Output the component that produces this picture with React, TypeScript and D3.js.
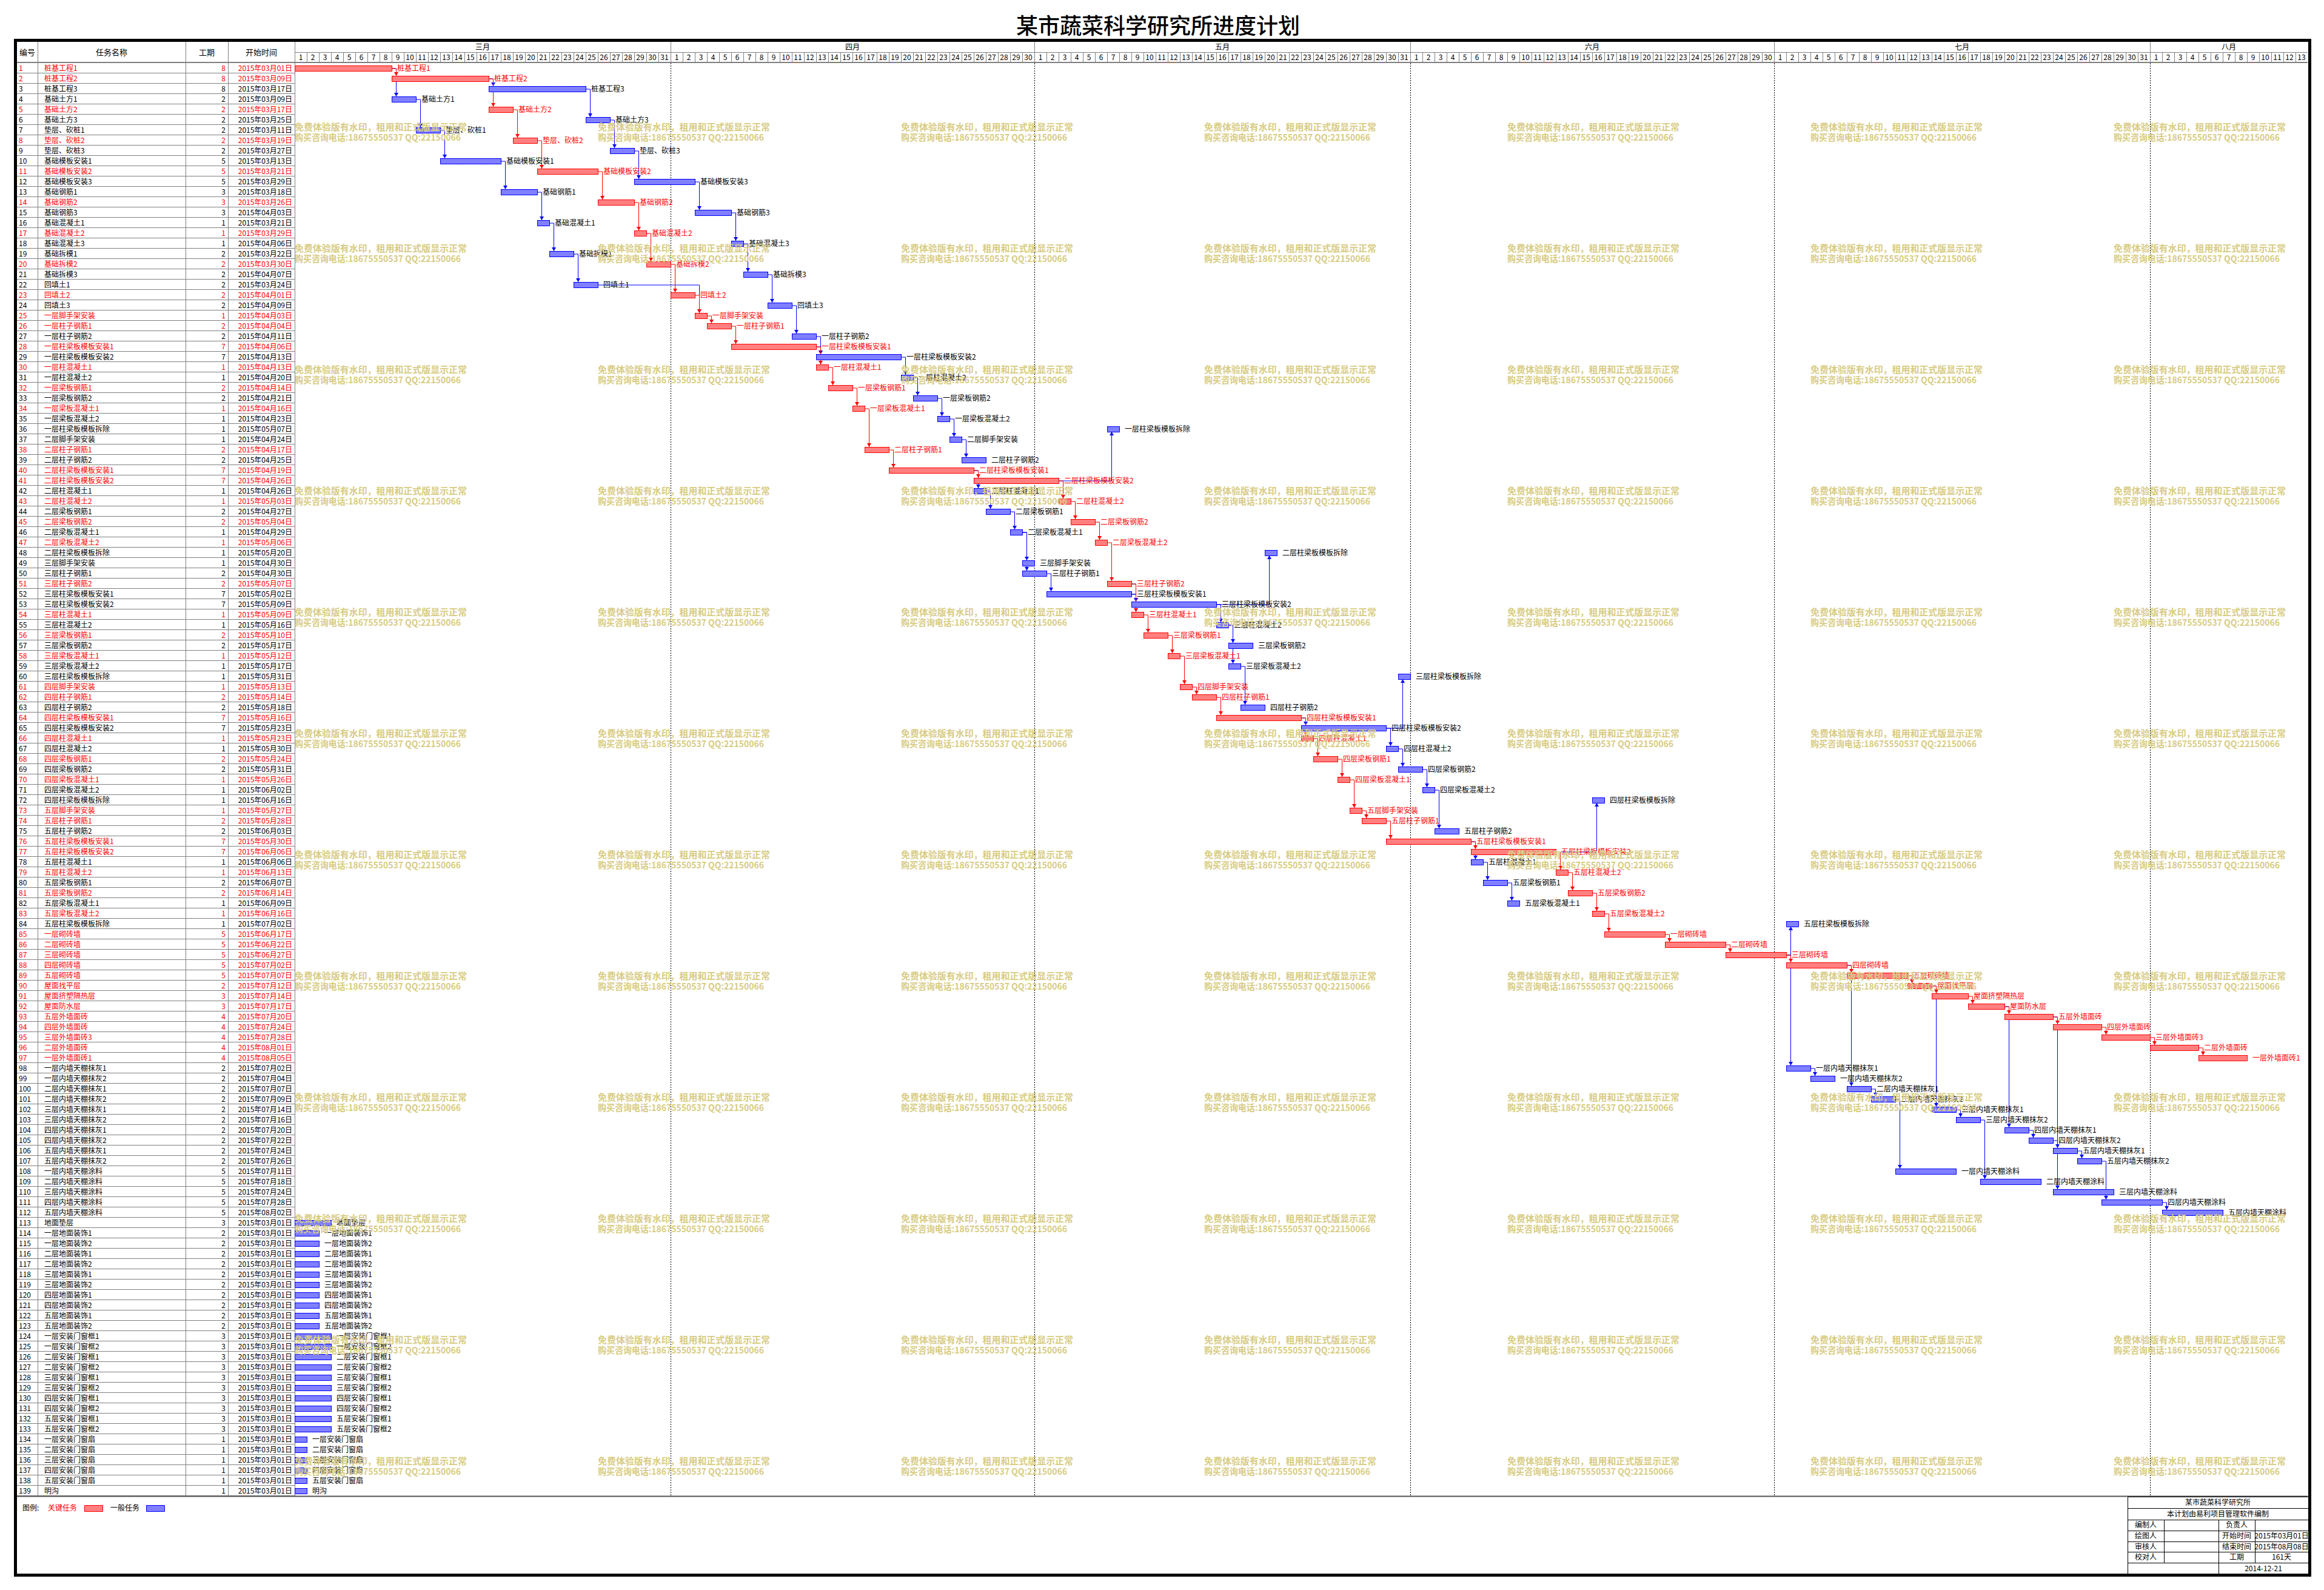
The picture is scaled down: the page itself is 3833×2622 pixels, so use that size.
import React, { useEffect, useRef } from "react";
import * as d3 from "d3";

// ---- data ----
const taskNames = [
  "桩基工程1", "桩基工程2", "桩基工程3", "基础土方1", "基础土方2", "基础土方3",
  "垫层、砍桩1", "垫层、砍桩2", "垫层、砍桩3", "基础模板安装1", "基础模板安装2", "基础模板安装3",
  "基础钢筋1", "基础钢筋2", "基础钢筋3", "基础混凝土1", "基础混凝土2", "基础混凝土3",
  "基础拆模1", "基础拆模2", "基础拆模3", "回填土1", "回填土2", "回填土3",
  "一层脚手架安装", "一层柱子钢筋1", "一层柱子钢筋2", "一层柱梁板模板安装1", "一层柱梁板模板安装2",
  "一层柱混凝土1", "一层柱混凝土2", "一层梁板钢筋1", "一层梁板钢筋2", "一层梁板混凝土1", "一层梁板混凝土2",
  "一层柱梁板模板拆除",
  "二层脚手架安装", "二层柱子钢筋1", "二层柱子钢筋2", "二层柱梁板模板安装1", "二层柱梁板模板安装2",
  "二层柱混凝土1", "二层柱混凝土2", "二层梁板钢筋1", "二层梁板钢筋2", "二层梁板混凝土1", "二层梁板混凝土2",
  "二层柱梁板模板拆除",
  "三层脚手架安装", "三层柱子钢筋1", "三层柱子钢筋2", "三层柱梁板模板安装1", "三层柱梁板模板安装2",
  "三层柱混凝土1", "三层柱混凝土2", "三层梁板钢筋1", "三层梁板钢筋2", "三层梁板混凝土1", "三层梁板混凝土2",
  "三层柱梁板模板拆除",
  "四层脚手架安装", "四层柱子钢筋1", "四层柱子钢筋2", "四层柱梁板模板安装1", "四层柱梁板模板安装2",
  "四层柱混凝土1", "四层柱混凝土2", "四层梁板钢筋1", "四层梁板钢筋2", "四层梁板混凝土1", "四层梁板混凝土2",
  "四层柱梁板模板拆除",
  "五层脚手架安装", "五层柱子钢筋1", "五层柱子钢筋2", "五层柱梁板模板安装1", "五层柱梁板模板安装2",
  "五层柱混凝土1", "五层柱混凝土2", "五层梁板钢筋1", "五层梁板钢筋2", "五层梁板混凝土1", "五层梁板混凝土2",
  "五层柱梁板模板拆除",
  "一层砌砖墙", "二层砌砖墙", "三层砌砖墙", "四层砌砖墙", "五层砌砖墙",
  "屋面找平层", "屋面挤塑隔热层", "屋面防水层",
  "五层外墙面砖", "四层外墙面砖", "三层外墙面砖3", "二层外墙面砖", "一层外墙面砖1",
  "一层内墙天棚抹灰1", "一层内墙天棚抹灰2", "二层内墙天棚抹灰1", "二层内墙天棚抹灰2",
  "三层内墙天棚抹灰1", "三层内墙天棚抹灰2", "四层内墙天棚抹灰1", "四层内墙天棚抹灰2",
  "五层内墙天棚抹灰1", "五层内墙天棚抹灰2",
  "一层内墙天棚涂料", "二层内墙天棚涂料", "三层内墙天棚涂料", "四层内墙天棚涂料", "五层内墙天棚涂料",
  "地面垫层",
  "一层地面装饰1", "一层地面装饰2", "二层地面装饰1", "二层地面装饰2", "三层地面装饰1",
  "三层地面装饰2", "四层地面装饰1", "四层地面装饰2", "五层地面装饰1", "五层地面装饰2",
  "一层安装门窗框1", "一层安装门窗框2", "二层安装门窗框1", "二层安装门窗框2", "三层安装门窗框1",
  "三层安装门窗框2", "四层安装门窗框1", "四层安装门窗框2", "五层安装门窗框1", "五层安装门窗框2",
  "一层安装门窗扇", "二层安装门窗扇", "三层安装门窗扇", "四层安装门窗扇", "五层安装门窗扇",
  "明沟",
];

const durations = [
  8, 8, 8, 2, 2, 2, 2, 2, 2, 5, 5, 5, 3, 3, 3, 1, 1, 1, 2, 2, 2, 2, 2, 2,
  1, 2, 2, 7, 7, 1, 1, 2, 2, 1, 1, 1,
  1, 2, 2, 7, 7, 1, 1, 2, 2, 1, 1, 1,
  1, 2, 2, 7, 7, 1, 1, 2, 2, 1, 1, 1,
  1, 2, 2, 7, 7, 1, 1, 2, 2, 1, 1, 1,
  1, 2, 2, 7, 7, 1, 1, 2, 2, 1, 1, 1,
  5, 5, 5, 5, 5, 2, 3, 3, 4, 4, 4, 4, 4,
  2, 2, 2, 2, 2, 2, 2, 2, 2, 2,
  5, 5, 5, 5, 5,
  3, 2, 2, 2, 2, 2, 2, 2, 2, 2, 2,
  3, 3, 3, 3, 3, 3, 3, 3, 3, 3,
  1, 1, 1, 1, 1, 1,
];

const startDates = [
  "03-01", "03-09", "03-17", "03-09", "03-17", "03-25", "03-11", "03-19", "03-27", "03-13",
  "03-21", "03-29", "03-18", "03-26", "04-03", "03-21", "03-29", "04-06", "03-22", "03-30",
  "04-07", "03-24", "04-01", "04-09", "04-03", "04-04", "04-11", "04-06", "04-13", "04-13",
  "04-20", "04-14", "04-21", "04-16", "04-23", "05-07", "04-24", "04-17", "04-25", "04-19",
  "04-26", "04-26", "05-03", "04-27", "05-04", "04-29", "05-06", "05-20", "04-30", "04-30",
  "05-07", "05-02", "05-09", "05-09", "05-16", "05-10", "05-17", "05-12", "05-17", "05-31",
  "05-13", "05-14", "05-18", "05-16", "05-23", "05-23", "05-30", "05-24", "05-31", "05-26",
  "06-02", "06-16", "05-27", "05-28", "06-03", "05-30", "06-06", "06-06", "06-13", "06-07",
  "06-14", "06-09", "06-16", "07-02", "06-17", "06-22", "06-27", "07-02", "07-07", "07-12",
  "07-14", "07-17", "07-20", "07-24", "07-28", "08-01", "08-05", "07-02", "07-04", "07-07",
  "07-09", "07-14", "07-16", "07-20", "07-22", "07-24", "07-26", "07-11", "07-18", "07-24",
  "07-28", "08-02", "03-01", "03-01", "03-01", "03-01", "03-01", "03-01", "03-01", "03-01",
  "03-01", "03-01", "03-01", "03-01", "03-01", "03-01", "03-01", "03-01", "03-01", "03-01",
  "03-01", "03-01", "03-01", "03-01", "03-01", "03-01", "03-01", "03-01", "03-01",
];

const criticalIds = [
  1, 2, 5, 8, 11, 14, 17, 20, 23, 25, 26, 28, 30, 32, 34, 38, 40, 41, 43, 45, 47,
  51, 54, 56, 58, 61, 62, 64, 66, 68, 70, 73, 74, 76, 77, 79, 81, 83,
  85, 86, 87, 88, 89, 90, 91, 92, 93, 94, 95, 96, 97,
];

// predecessor -> successor
const links: [number, number][] = [
  [1, 2], [1, 4], [2, 3], [2, 5], [3, 6], [4, 7], [5, 8], [6, 9], [7, 10], [8, 11], [9, 12],
  [10, 13], [11, 14], [12, 15], [13, 16], [14, 17], [15, 18], [16, 19], [17, 20], [18, 21],
  [19, 22], [20, 23], [21, 24], [22, 25], [23, 25], [25, 26], [24, 27], [26, 28], [27, 29],
  [28, 29], [28, 30], [29, 31], [30, 32], [31, 33], [32, 34], [33, 35],
  [35, 37], [34, 38], [37, 39], [38, 40], [40, 41], [40, 42], [41, 43], [42, 44], [43, 45],
  [44, 46], [45, 47], [41, 36],
  [46, 49], [46, 50], [47, 51], [50, 52], [51, 53], [52, 53], [51, 54], [52, 54], [53, 55],
  [54, 56], [55, 57], [55, 59], [56, 58], [53, 48],
  [58, 61], [61, 62], [59, 63], [62, 64], [64, 65], [64, 66], [65, 67], [66, 68], [67, 69],
  [68, 70], [69, 71], [65, 60],
  [70, 73], [73, 74], [71, 75], [74, 76], [76, 77], [76, 78], [77, 79], [78, 80], [79, 81],
  [80, 82], [81, 83], [77, 72],
  [83, 85], [85, 86], [86, 87], [87, 88], [88, 89], [89, 90], [90, 91], [91, 92], [92, 93],
  [93, 94], [94, 95], [95, 96], [96, 97], [87, 84],
  [87, 98], [98, 99], [88, 100], [100, 101], [90, 102], [102, 103], [92, 104], [104, 105],
  [93, 106], [106, 107], [101, 108], [103, 109], [105, 110], [107, 111], [111, 112],
];

const monthNames = ["三月", "四月", "五月", "六月", "七月", "八月"];
const headerLabels = ["编号", "任务名称", "工期", "开始时间"];
const watermarkLines = ["免费体验版有水印，租用和正式版显示正常", "购买咨询电话:18675550537 QQ:22150066"];
const infoLeft = ["编制人", "绘图人", "审核人", "校对人"];
const infoRightLabels = ["负责人", "开始时间", "结束时间", "工期"];
const infoRightValues = ["", "2015年03月01日", "2015年08月08日", "161天"];

const FONT = "'Noto Sans CJK SC', 'Noto Sans', sans-serif";
const RED = "#ff0000";
const BLUE = "#0000ff";
const GRID = "#808080";

const App = () => {
  const svgRef = useRef<SVGSVGElement | null>(null);

  useEffect(() => {
    document.body.style.margin = "0";
    if (!svgRef.current) return;
    const svg = d3.select(svgRef.current);
    svg.selectAll("*").remove();

    const parse = d3.utcParse("%Y-%m-%d");
    const t0 = parse("2015-03-01") as Date;
    const t1 = parse("2015-08-14") as Date;

    const left = 28;
    const colX = [left, 62, 306, 376, 486];
    const top = 69;
    const monthBottom = 86;
    const headBottom = 104;
    const rowH = 17;

    const x = d3.scaleUtc().domain([t0, t1]).range([486, 3806]);
    const tEnd = x.range()[1];

    const tasks = taskNames.map((name, i) => {
      const start = parse("2015-" + startDates[i]) as Date;
      return {
        id: i + 1,
        name,
        dur: durations[i],
        start,
        end: d3.utcDay.offset(start, durations[i]),
        crit: criticalIds.includes(i + 1),
        label: startDates[i],
      };
    });
    const byId = new Map(tasks.map((t) => [t.id, t]));

    const y = d3
      .scaleBand<number>()
      .domain(tasks.map((t) => t.id))
      .range([headBottom, headBottom + tasks.length * rowH]);
    const tableBottom = y.range()[1];

    // patterns
    const defs = svg.append("defs");
    [
      ["hatchRed", RED],
      ["hatchBlue", BLUE],
    ].forEach(([id, c]) => {
      const p = defs
        .append("pattern")
        .attr("id", id)
        .attr("width", 2)
        .attr("height", 2)
        .attr("patternUnits", "userSpaceOnUse");
      p.append("rect").attr("width", 2).attr("height", 2).attr("fill", "#fff");
      p.append("rect").attr("width", 1).attr("height", 1).attr("fill", c);
      p.append("rect").attr("x", 1).attr("y", 1).attr("width", 1).attr("height", 1).attr("fill", c);
    });

    svg.append("rect").attr("width", 3833).attr("height", 2622).attr("fill", "#fff");

    // title
    svg
      .append("text")
      .attr("x", 1910)
      .attr("y", 56)
      .attr("text-anchor", "middle")
      .style("font-family", FONT)
      .style("font-size", "36px")
      .style("font-weight", 500)
      .text("某市蔬菜科学研究所进度计划");

    const g = svg.append("g");

    // ---- table grid ----
    const days = d3.utcDay.range(t0, t1);
    const months = d3.utcMonth.range(t0, t1);

    tasks.forEach((t) => {
      g.append("line")
        .attr("x1", left)
        .attr("x2", colX[4])
        .attr("y1", (y(t.id) as number) + rowH - 0.5)
        .attr("y2", (y(t.id) as number) + rowH - 0.5)
        .attr("stroke", GRID);
    });
    colX.slice(1).forEach((cx) => {
      g.append("line")
        .attr("x1", cx + 0.5)
        .attr("x2", cx + 0.5)
        .attr("y1", top)
        .attr("y2", tableBottom)
        .attr("stroke", GRID);
    });
    // header lines
    g.append("line")
      .attr("x1", left)
      .attr("x2", tEnd)
      .attr("y1", headBottom - 1)
      .attr("y2", headBottom - 1)
      .attr("stroke", GRID)
      .attr("stroke-width", 2);
    g.append("line")
      .attr("x1", colX[4])
      .attr("x2", tEnd)
      .attr("y1", monthBottom + 0.5)
      .attr("y2", monthBottom + 0.5)
      .attr("stroke", GRID);
    days.forEach((d) => {
      g.append("line")
        .attr("x1", x(d) + 0.5)
        .attr("x2", x(d) + 0.5)
        .attr("y1", monthBottom)
        .attr("y2", headBottom)
        .attr("stroke", GRID);
      g.append("text")
        .attr("x", x(d) + 10)
        .attr("y", (monthBottom + headBottom) / 2)
        .attr("dy", "0.35em")
        .attr("text-anchor", "middle")
        .style("font-family", FONT)
        .style("font-size", "12px")
        .text(d.getUTCDate());
    });
    months.forEach((m, i) => {
      const next = i < months.length - 1 ? months[i + 1] : t1;
      g.append("line")
        .attr("x1", x(m) + 0.5)
        .attr("x2", x(m) + 0.5)
        .attr("y1", top)
        .attr("y2", headBottom)
        .attr("stroke", GRID);
      g.append("text")
        .attr("x", (x(m) + x(next)) / 2)
        .attr("y", (top + monthBottom) / 2)
        .attr("dy", "0.35em")
        .attr("text-anchor", "middle")
        .style("font-family", FONT)
        .style("font-size", "12px")
        .text(monthNames[i]);
      if (i > 0) {
        g.append("line")
          .attr("x1", x(m) + 0.5)
          .attr("x2", x(m) + 0.5)
          .attr("y1", headBottom)
          .attr("y2", tableBottom)
          .attr("stroke", "#000")
          .attr("stroke-dasharray", "2,2");
      }
    });

    headerLabels.forEach((h, i) => {
      g.append("text")
        .attr("x", (colX[i] + colX[i + 1]) / 2)
        .attr("y", (top + headBottom) / 2)
        .attr("dy", "0.35em")
        .attr("text-anchor", "middle")
        .style("font-family", FONT)
        .style("font-size", "13px")
        .text(h);
    });

    // table rows
    const rowText = g
      .selectAll("g.row")
      .data(tasks)
      .enter()
      .append("g")
      .attr("transform", (d) => `translate(0, ${(y(d.id) as number) + rowH / 2})`)
      .style("font-family", FONT)
      .style("font-size", "12px")
      .attr("fill", (d) => (d.crit ? RED : "#000"));
    rowText.append("text").attr("x", 31).attr("dy", "0.36em").text((d) => d.id);
    rowText.append("text").attr("x", 73).attr("dy", "0.36em").text((d) => d.name);
    rowText
      .append("text")
      .attr("x", 372)
      .attr("dy", "0.36em")
      .attr("text-anchor", "end")
      .text((d) => d.dur);
    rowText
      .append("text")
      .attr("x", 482)
      .attr("dy", "0.36em")
      .attr("text-anchor", "end")
      .text((d) => `2015年${d.label.slice(0, 2)}月${d.label.slice(3)}日`);

    // ---- links ----
    const linkData = links
      .map(([p, s]) => ({ p: byId.get(p)!, s: byId.get(s)! }))
      .sort((a, b) => Number(a.p.crit && a.s.crit) - Number(b.p.crit && b.s.crit));
    const linkG = g.append("g");
    linkData.forEach(({ p, s }) => {
      const pe = x(p.end);
      const lx = Math.max(pe, x(s.start)) + 7;
      const py = (y(p.id) as number) + rowH / 2;
      const down = s.id > p.id;
      const sy = down ? (y(s.id) as number) + 4 : (y(s.id) as number) + 13;
      const color = p.crit && s.crit ? RED : BLUE;
      linkG
        .append("path")
        .attr("d", `M${pe},${py + 0.5}H${lx + 0.5}V${sy}`)
        .attr("fill", "none")
        .attr("stroke", color)
        .attr("stroke-width", 1);
      const dir = down ? -1 : 1;
      linkG
        .append("path")
        .attr("d", `M${lx + 0.5},${sy}L${lx - 3},${sy + dir * 6}L${lx + 4},${sy + dir * 6}Z`)
        .attr("fill", color);
    });

    // ---- bars ----
    const bars = g
      .selectAll("g.bar")
      .data(tasks)
      .enter()
      .append("g")
      .attr("transform", (d) => `translate(0, ${y(d.id)})`);
    bars
      .append("rect")
      .attr("x", (d) => x(d.start) + 0.5)
      .attr("y", 4.5)
      .attr("width", (d) => x(d.end) - x(d.start))
      .attr("height", 9)
      .attr("fill", (d) => (d.crit ? "url(#hatchRed)" : "url(#hatchBlue)"))
      .attr("stroke", (d) => (d.crit ? RED : BLUE));
    bars
      .append("text")
      .attr("x", (d) => x(d.end) + 9)
      .attr("y", rowH / 2)
      .attr("dy", "0.36em")
      .style("font-family", FONT)
      .style("font-size", "12px")
      .attr("fill", (d) => (d.crit ? RED : "#000"))
      .text((d) => d.name);

    // ---- watermark ----
    const wm = g.append("g").attr("fill", "#d8cc84").style("font-family", FONT).style("font-weight", 700);
    for (let r = 0; r < 12; r++) {
      for (let c = 0; c < 7; c++) {
        const wx = 486 + c * 500;
        const wy = 215 + r * 200;
        wm.append("text")
          .attr("x", wx)
          .attr("y", wy)
          .attr("textLength", 284)
          .attr("lengthAdjust", "spacingAndGlyphs")
          .style("font-size", "15px")
          .text(watermarkLines[0]);
        wm.append("text")
          .attr("x", wx)
          .attr("y", wy + 17)
          .attr("textLength", 274)
          .attr("lengthAdjust", "spacingAndGlyphs")
          .style("font-size", "15px")
          .text(watermarkLines[1]);
      }
    }

    // table bottom line
    g.append("line")
      .attr("x1", left)
      .attr("x2", tEnd)
      .attr("y1", tableBottom + 0.5)
      .attr("y2", tableBottom + 0.5)
      .attr("stroke", "#555")
      .attr("stroke-width", 2);

    // ---- legend ----
    const lg = g.append("g").style("font-family", FONT).style("font-size", "12px");
    lg.append("text").attr("x", 37).attr("y", 2487).attr("dy", "0.36em").text("图例:");
    lg.append("text").attr("x", 79).attr("y", 2487).attr("dy", "0.36em").attr("fill", RED).text("关键任务");
    lg.append("rect")
      .attr("x", 139.5)
      .attr("y", 2482.5)
      .attr("width", 30)
      .attr("height", 10)
      .attr("fill", "url(#hatchRed)")
      .attr("stroke", RED);
    lg.append("text").attr("x", 182).attr("y", 2487).attr("dy", "0.36em").text("一般任务");
    lg.append("rect")
      .attr("x", 241.5)
      .attr("y", 2482.5)
      .attr("width", 30)
      .attr("height", 10)
      .attr("fill", "url(#hatchBlue)")
      .attr("stroke", BLUE);

    // ---- info box ----
    const bx = [3509, 3569, 3659, 3719, 3807];
    const by = [2468, 2487, 2506, 2524, 2542, 2559, 2577, 2596];
    const ib = g.append("g").style("font-family", FONT).style("font-size", "12px");
    by.slice(0, 7).forEach((yy) => {
      ib.append("line")
        .attr("x1", bx[0])
        .attr("x2", bx[4])
        .attr("y1", yy + 0.5)
        .attr("y2", yy + 0.5)
        .attr("stroke", "#000");
    });
    ib.append("line").attr("x1", bx[0] + 0.5).attr("x2", bx[0] + 0.5).attr("y1", by[0]).attr("y2", by[7]).attr("stroke", "#000");
    [bx[1], bx[3]].forEach((xx) =>
      ib.append("line").attr("x1", xx + 0.5).attr("x2", xx + 0.5).attr("y1", by[2]).attr("y2", by[6]).attr("stroke", "#000")
    );
    ib.append("line").attr("x1", bx[2] + 0.5).attr("x2", bx[2] + 0.5).attr("y1", by[2]).attr("y2", by[7]).attr("stroke", "#000");
    const cText = (tx: number, ty: number, s: string) =>
      ib.append("text").attr("x", tx).attr("y", ty).attr("dy", "0.36em").attr("text-anchor", "middle").text(s);
    cText((bx[0] + bx[4]) / 2, (by[0] + by[1]) / 2, "某市蔬菜科学研究所");
    cText((bx[0] + bx[4]) / 2, (by[1] + by[2]) / 2, "本计划由易利项目管理软件编制");
    infoLeft.forEach((s, i) => {
      const cy = (by[i + 2] + by[i + 3]) / 2;
      cText((bx[0] + bx[1]) / 2, cy, s);
      cText((bx[2] + bx[3]) / 2, cy, infoRightLabels[i]);
      cText((bx[3] + bx[4]) / 2, cy, infoRightValues[i]);
    });
    cText((bx[2] + bx[4]) / 2, (by[6] + by[7]) / 2, "2014-12-21");

    // ---- outer frame ----
    svg
      .append("rect")
      .attr("x", 25.5)
      .attr("y", 66.5)
      .attr("width", 3784)
      .attr("height", 2531)
      .attr("fill", "none")
      .attr("stroke", "#000")
      .attr("stroke-width", 5);
  }, []);

  return <svg ref={svgRef} width={3833} height={2622} style={{ display: "block" }} />;
};

export default App;
